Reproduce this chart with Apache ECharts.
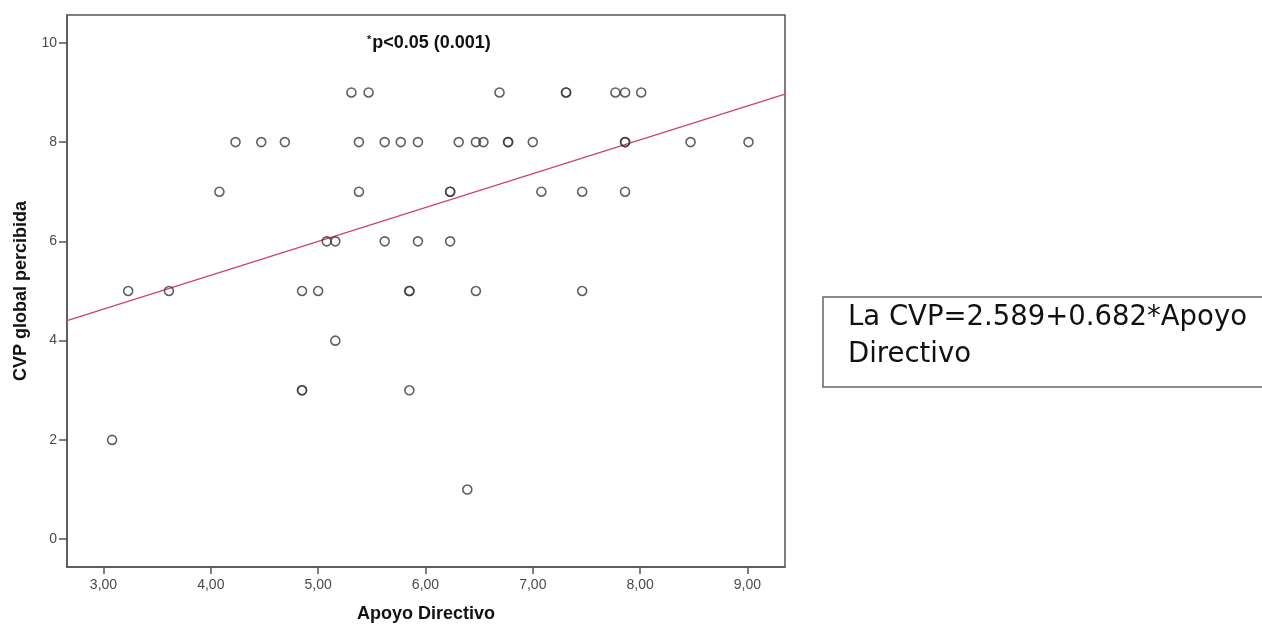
<!DOCTYPE html>
<html>
<head>
<meta charset="utf-8">
<script src="https://cdn.jsdelivr.net/npm/echarts@6/dist/echarts.min.js"></script>
<style>
  html, body { margin: 0; padding: 0; background: #fff; }
  #chart { width: 1262px; height: 625px; }
</style>
</head>
<body>
<div id="chart"></div>
<script>
// puntos (Apoyo Directivo, CVP global percibida)
var apoyo = [
  5.31, 5.47, 6.69, 7.31, 7.31, 7.77, 7.86, 8.01,
  4.23, 4.47, 4.69, 5.38, 5.62, 5.77, 5.93, 6.31, 6.47, 6.54, 6.77, 6.77, 7.00, 7.86, 7.86, 8.47, 9.01,
  4.08, 5.38, 6.23, 6.23, 7.08, 7.46, 7.86,
  5.08, 5.16, 5.62, 5.93, 6.23,
  3.23, 3.61, 4.85, 5.00, 5.85, 5.85, 6.47, 7.46,
  5.16,
  4.85, 4.85, 5.85,
  3.08,
  6.39
];
var cvp = [
  9, 9, 9, 9, 9, 9, 9, 9,
  8, 8, 8, 8, 8, 8, 8, 8, 8, 8, 8, 8, 8, 8, 8, 8, 8,
  7, 7, 7, 7, 7, 7, 7,
  6, 6, 6, 6, 6,
  5, 5, 5, 5, 5, 5, 5, 5,
  4,
  3, 3, 3,
  2,
  1
];
var xTicks = [3, 4, 5, 6, 7, 8, 9];
var yTicks = [0, 2, 4, 6, 8, 10];
var intercept = 2.589;
var slope = 0.682;
var xMin = 2.66, xMax = 9.35;
var yMin = -0.56, yMax = 10.56;

var puntos = [];
for (var i = 0; i < apoyo.length; i++) {
  puntos.push([apoyo[i], cvp[i]]);
}
var recta = [
  [xMin, intercept + slope * xMin],
  [xMax, intercept + slope * xMax]
];

var myChart = echarts.init(document.getElementById('chart'));
var option = {
  backgroundColor: '#fff',
  animation: false,
  title: {
    text: '{s|*}p<0.05 (0.001)',
    left: 362,
    top: 29,
    textStyle: {
      fontFamily: 'Liberation Sans', fontWeight: 'bold', fontSize: 18, color: '#111',
      rich: { s: { fontFamily: 'Liberation Sans', fontWeight: 'bold', fontSize: 11, color: '#111', verticalAlign: 'top', padding: [0, 1, 6, 0] } }
    }
  },
  grid: {
    left: 67, top: 15, right: 477, bottom: 58,
    outerBoundsMode: 'none',
    show: true, borderColor: '#555', borderWidth: 1.5, backgroundColor: '#fff'
  },
  xAxis: {
    type: 'value',
    min: xMin, max: xMax,
    name: 'Apoyo Directivo',
    nameLocation: 'middle',
    nameGap: 38,
    nameTextStyle: { fontFamily: 'Liberation Sans', fontWeight: 'bold', fontSize: 18, color: '#111' },
    axisLine: { show: true, onZero: false, lineStyle: { color: '#555', width: 1.5 } },
    axisTick: { show: true, length: 7, customValues: xTicks, lineStyle: { color: '#555', width: 1.5 } },
    axisLabel: {
      customValues: xTicks, margin: 11,
      fontFamily: 'Liberation Sans', fontSize: 14, color: '#4a4a4a',
      formatter: function(v) { return v.toFixed(2).replace('.', ','); }
    },
    splitLine: { show: false }
  },
  yAxis: {
    type: 'value',
    min: yMin, max: yMax,
    name: 'CVP global percibida',
    nameLocation: 'middle',
    nameGap: 36,
    nameRotate: 90,
    nameTextStyle: { fontFamily: 'Liberation Sans', fontWeight: 'bold', fontSize: 18, color: '#111' },
    axisLine: { show: true, onZero: false, lineStyle: { color: '#555', width: 1.5 } },
    axisTick: { show: true, length: 8, customValues: yTicks, lineStyle: { color: '#555', width: 1.5 } },
    axisLabel: {
      customValues: yTicks, margin: 10,
      fontFamily: 'Liberation Sans', fontSize: 14, color: '#4a4a4a'
    },
    splitLine: { show: false }
  },
  series: [
    {
      type: 'scatter',
      data: puntos,
      symbol: 'circle',
      symbolSize: 9,
      itemStyle: { color: 'rgba(255,255,255,0)', borderColor: '#3a3a3a', borderWidth: 1.6 },
      z: 3
    },
    {
      type: 'line',
      data: recta,
      symbol: 'none',
      lineStyle: { color: '#cc4468', width: 1.3 },
      z: 2
    }
  ],
  graphic: [
    {
      type: 'rect',
      shape: { x: 823, y: 297, width: 500, height: 90 },
      style: { fill: '#fff', stroke: '#666', lineWidth: 1.5 }
    },
    {
      type: 'text',
      left: 848,
      top: 299,
      style: {
        text: 'La CVP=2.589+0.682*Apoyo\nDirectivo',
        font: '27.5px "DejaVu Sans"',
        fill: '#111',
        lineHeight: 37
      }
    }
  ]
};
myChart.setOption(option);
</script>
</body>
</html>
